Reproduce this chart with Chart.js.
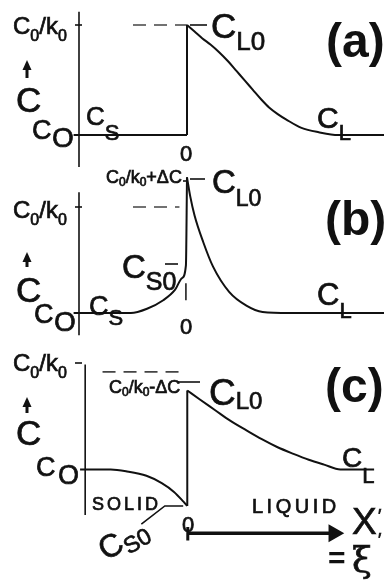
<!DOCTYPE html>
<html>
<head>
<meta charset="utf-8">
<script src="https://cdn.jsdelivr.net/npm/chart.js@4.4.1/dist/chart.umd.min.js"></script>
<style>
  html, body { margin: 0; padding: 0; background: #fff; }
  #wrap { position: relative; width: 384px; height: 583px; overflow: hidden; }
  canvas { position: absolute; left: 0; }
</style>
</head>
<body>
<div id="wrap">
  <canvas id="pa" width="384" height="168" style="top:0px"></canvas>
  <canvas id="pb" width="384" height="177" style="top:168px"></canvas>
  <canvas id="pc" width="384" height="238" style="top:345px"></canvas>
</div>
<script>
// x: distance from interface (0), left axis at -1.  y: C in units where Co = 1, C0/k0 = 2

// (a)
var aSolidX = [-1.05, 0];
var aSolidY = [1, 1];
var aWallX = [0, 0];
var aWallY = [1, 2];
var aLiqX = [0, 0.07, 0.14, 0.22, 0.3, 0.38, 0.46, 0.54, 0.61, 0.69, 0.76, 0.84, 0.92, 1.06, 1.22, 1.4, 1.83];
var aLiqY = [2, 1.94, 1.88, 1.82, 1.75, 1.67, 1.58, 1.49, 1.41, 1.32, 1.25, 1.19, 1.14, 1.065, 1.025, 1.0, 1.0];
var aDashX = [-0.5, 0];
var aDashY = [2, 2];
var aAxisY = [0.71, 2.12];

// (b)
var bSolidX = [-1.05, -0.52, -0.37, -0.22, -0.11, -0.046, -0.01, 0];
var bSolidY = [1, 1, 1.04, 1.12, 1.22, 1.33, 1.45, 2.28];
var bLiqX = [0, 0.03, 0.07, 0.15, 0.24, 0.39, 0.55, 0.7, 0.95, 1.83];
var bLiqY = [2.28, 2.1, 1.92, 1.67, 1.44, 1.2, 1.07, 1.01, 1.0, 1.0];
var bDashX = [-0.5, -0.07];
var bDashY = [2, 2];
var bMarkX = [-0.01, -0.01];
var bMarkY = [1.28, 1.12];
var bAxisY = [0.79, 2.14];

// (c)
var cSolidX = [-1.05, -0.75, -0.59, -0.4, -0.25, -0.13, -0.037, 0];
var cSolidY = [1, 1, 0.98, 0.935, 0.86, 0.77, 0.67, 0.626];
var cWallX = [0, 0];
var cWallY = [0.626, 1.81];
var cLiqX = [0, 0.12, 0.27, 0.42, 0.58, 0.73, 0.88, 1.04, 1.19, 1.34, 1.5, 1.83];
var cLiqY = [1.81, 1.72, 1.61, 1.5, 1.4, 1.31, 1.23, 1.16, 1.1, 1.05, 1.0, 1.0];
var cDashX = [-0.83, -0.04];
var cDashY = [2, 2];
var cPointerX = [-0.45, -0.22, -0.04];
var cPointerY = [0.44, 0.626, 0.626];
var cArrowX = [0.005, 1.435];
var cArrowY = [0.346, 0.346];
var cArrowTickX = [0.005, 0.005];
var cArrowTickY = [0.411, 0.271];
var cAxisY = [0.533, 2.075];

var INK = '#111';
var FONT = '"Liberation Sans", Arial, sans-serif';
var XMIN = -1 - 79 / 108, XMAX = 197 / 108;

function line(xs, ys, extra) {
  var ds = {
    data: xs.map(function (x, i) { return { x: x, y: ys[i] }; }),
    showLine: true,
    borderColor: INK,
    borderWidth: 2,
    pointRadius: 0,
    fill: false,
    clip: false,
    tension: 0
  };
  return Object.assign(ds, extra || {});
}
var curve = { cubicInterpolationMode: 'monotone' };
var dash = { borderDash: [13, 8], borderWidth: 1.6, borderColor: '#444' };
function axis(ys) { return line([-1, -1], ys, { borderWidth: 1.6 }); }

// y range so that C0/k0 (2) and Co (1) fall on the given canvas rows
function yRange(h, row2, row1) {
  var u = row1 - row2;
  return { min: 1 - (h - row1) / u, max: 2 + row2 / u };
}

function P(t, s, dy, more) { return Object.assign({ t: t, s: s, dy: dy || 0 }, more || {}); }
function c0k0() {
  return [P('C', 24), P('0', 16, 7), P('/k', 24), P('0', 16, 7)];
}

var notesPlugin = {
  id: 'notes',
  afterDatasetsDraw: function (chart, args, opts) {
    var ctx = chart.ctx, top = opts.top || 0;
    ctx.save();
    ctx.fillStyle = INK;
    ctx.strokeStyle = INK;
    ctx.textBaseline = 'alphabetic';
    (opts.leaders || []).forEach(function (l) {
      ctx.lineWidth = l[4] || 1.6;
      ctx.beginPath();
      ctx.moveTo(l[0], l[1] - top);
      ctx.lineTo(l[2], l[3] - top);
      ctx.stroke();
    });
    // small upward arrows next to the C label
    (opts.ups || []).forEach(function (a) {
      var x = a[0], y0 = a[1] - top, y1 = a[2] - top;
      ctx.lineWidth = 3;
      ctx.beginPath(); ctx.moveTo(x, y1); ctx.lineTo(x, y0 + 7); ctx.stroke();
      ctx.beginPath(); ctx.moveTo(x - 4.5, y0 + 10); ctx.lineTo(x + 4.5, y0 + 10); ctx.lineTo(x, y0); ctx.closePath(); ctx.fill();
    });
    (opts.labels || []).forEach(function (lb) {
      ctx.save();
      ctx.translate(lb.x, lb.y - top);
      if (lb.rot) ctx.rotate(lb.rot * Math.PI / 180);
      var x = 0;
      lb.parts.forEach(function (p) {
        ctx.font = (p.b ? 'bold ' : '') + p.s + 'px ' + (p.f || FONT);
        ctx.letterSpacing = (p.ls || 0) + 'px';
        ctx.fillText(p.t, x, p.dy);
        if (!p.b) { ctx.lineWidth = 0.7; ctx.strokeText(p.t, x, p.dy); }
        x += ctx.measureText(p.t).width;
      });
      ctx.restore();
    });
    ctx.restore();
  }
};

function panel(id, top, h, row2, row1, datasets, notes) {
  var r = yRange(h, row2, row1);
  notes.top = top;
  return new Chart(document.getElementById(id), {
    type: 'scatter',
    data: { datasets: datasets },
    options: {
      responsive: false,
      animation: false,
      events: [],
      layout: { padding: 0 },
      scales: {
        x: { type: 'linear', display: false, min: XMIN, max: XMAX },
        y: { type: 'linear', display: false, min: r.min, max: r.max }
      },
      plugins: { legend: { display: false }, tooltip: { enabled: false }, notes: notes }
    },
    plugins: [notesPlugin]
  });
}

// (a)
panel('pa', 0, 168, 25, 135, [
  axis(aAxisY),
  line(aSolidX, aSolidY),
  line(aWallX, aWallY),
  line(aLiqX, aLiqY, curve),
  line(aDashX, aDashY, dash)
], {
  leaders: [[75, 25, 82, 25], [190, 25, 207, 25]],
  ups: [[27, 60, 78]],
  labels: [
    { x: 13, y: 34, parts: c0k0() },
    { x: 16, y: 112, parts: [P('C', 35)] },
    { x: 32, y: 139, parts: [P('C', 27)] },
    { x: 52, y: 147, parts: [P('O', 28)] },
    { x: 86, y: 125, parts: [P('C', 26), P('S', 22, 15)] },
    { x: 211, y: 38, parts: [P('C', 35), P('L0', 26, 12)] },
    { x: 326, y: 57, parts: [P('(a)', 48, 0, { b: true })] },
    { x: 317, y: 128, parts: [P('C', 30), P('L', 22, 12)] },
    { x: 180, y: 161, parts: [P('0', 22)] }
  ]
});

// (b)
panel('pb', 168, 177, 39, 145, [
  axis(bAxisY),
  line(bSolidX, bSolidY, curve),
  line(bLiqX, bLiqY, curve),
  line(bDashX, bDashY, dash),
  line(bMarkX, bMarkY, { borderWidth: 1.5 })
], {
  leaders: [[75, 207, 82, 207], [183, 181, 186, 181], [190, 179, 205, 179], [165, 264, 178, 264]],
  ups: [[27, 252, 267]],
  labels: [
    { x: 13, y: 218, parts: c0k0() },
    { x: 16, y: 302, parts: [P('C', 35)] },
    { x: 34, y: 323, parts: [P('C', 27)] },
    { x: 54, y: 331, parts: [P('O', 28)] },
    { x: 106, y: 183, parts: [P('C', 18), P('0', 12, 3), P('/k', 18), P('0', 12, 3), P('+ΔC', 18)] },
    { x: 212, y: 193, parts: [P('C', 33), P('L0', 23, 13)] },
    { x: 122, y: 278, parts: [P('C', 33), P('S0', 25, 12)] },
    { x: 89, y: 315, parts: [P('C', 27), P('S', 22, 10)] },
    { x: 180, y: 334, parts: [P('0', 22)] },
    { x: 325, y: 235, parts: [P('(b)', 48, 0, { b: true })] },
    { x: 317, y: 305, parts: [P('C', 31), P('L', 22, 13)] }
  ]
});

// (c)
panel('pc', 345, 238, 18, 125, [
  axis(cAxisY),
  line(cSolidX, cSolidY, curve),
  line(cWallX, cWallY),
  line(cLiqX, cLiqY, curve),
  line(cDashX, cDashY, dash),
  line(cPointerX, cPointerY, { borderWidth: 1.6 }),
  line(cArrowTickX, cArrowTickY, { borderWidth: 3 }),
  line(cArrowX, cArrowY, {
    borderWidth: 3.5,
    pointStyle: 'triangle',
    rotation: 90,
    pointRadius: [0, 7],
    pointBackgroundColor: INK,
    pointBorderColor: INK
  })
], {
  leaders: [[75, 363, 82, 363], [178, 382, 200, 382]],
  ups: [[27, 397, 413]],
  labels: [
    { x: 13, y: 371, parts: c0k0() },
    { x: 16, y: 445, parts: [P('C', 35)] },
    { x: 36, y: 476, parts: [P('C', 27)] },
    { x: 58, y: 484, parts: [P('O', 27)] },
    { x: 109, y: 393, parts: [P('C', 18), P('0', 12, 3), P('/k', 18), P('0', 12, 3), P('-ΔC', 18)] },
    { x: 209, y: 405, parts: [P('C', 37), P('L0', 24, 4)] },
    { x: 325, y: 402, parts: [P('(c)', 48, 0, { b: true })] },
    { x: 342, y: 467, parts: [P('C', 28), P('L', 22, 16)] },
    { x: 92, y: 510, parts: [P('SOLID', 18, 0, { ls: 3 })] },
    { x: 252, y: 513, parts: [P('LIQUID', 20, 0, { ls: 3.5 })] },
    { x: 182, y: 532, parts: [P('0', 22)] },
    { x: 106, y: 561, rot: -30, parts: [P('C', 32), P('S0', 23, 6)] },
    { x: 352, y: 534, parts: [P('X', 37)] },
    { x: 378, y: 522, parts: [P('\u2032', 18)] },
    { x: 378, y: 546, parts: [P('\u2032', 18)] },
    { x: 328, y: 568, parts: [P('=', 30, 0, { b: true })] },
    { x: 352, y: 572, parts: [P('\u03BE', 36, 0, { f: '"DejaVu Serif", serif' })] }
  ]
});
</script>
</body>
</html>
